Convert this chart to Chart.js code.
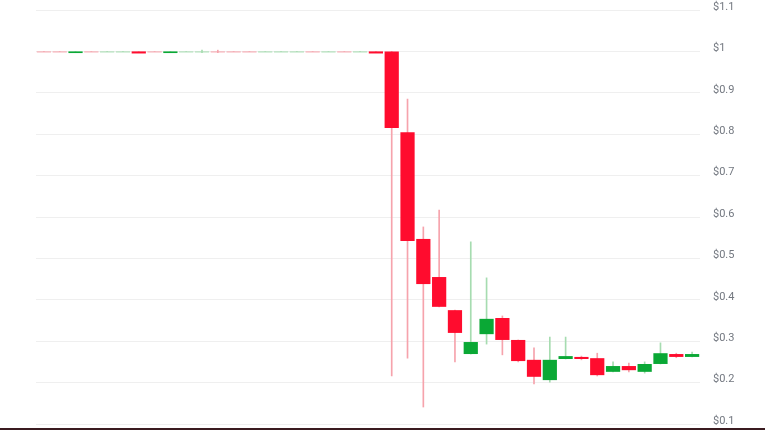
<!DOCTYPE html>
<html>
<head>
<meta charset="utf-8">
<script src="https://cdn.jsdelivr.net/npm/chart.js@4.4.0/dist/chart.umd.min.js"></script>
<style>
  html, body { margin: 0; padding: 0; background: #fff; }
  #wrap { width: 765px; height: 428px; position: relative; }
  #bottomLine { width: 765px; height: 2px; background: #3a1b20; }
</style>
</head>
<body>
<div id="wrap"><canvas id="myChart"></canvas></div>
<div id="bottomLine"></div>
<script>
// candle values
const opens = [
  1.0, 1.0, 0.996, 1.0, 0.9975, 0.9975, 1.0, 1.0, 0.996, 0.9975,
  0.9975, 1.0, 1.0, 1.0, 0.9975, 0.9975, 0.9975, 1.0, 0.9975, 1.0,
  0.9975, 1.0, 1.0, 0.805, 0.547, 0.455, 0.375, 0.269, 0.317, 0.356,
  0.303, 0.255, 0.206, 0.257, 0.262, 0.259, 0.226, 0.240, 0.226, 0.245,
  0.269, 0.262
];
const closes = [
  0.9975, 0.9975, 1.0, 0.9975, 1.0, 1.0, 0.995, 0.9975, 1.0, 1.0,
  1.0, 0.9975, 0.9975, 0.9975, 1.0, 1.0, 1.0, 0.9975, 1.0, 0.9975,
  1.0, 0.995, 0.815, 0.542, 0.438, 0.383, 0.320, 0.298, 0.354, 0.303,
  0.252, 0.214, 0.255, 0.264, 0.257, 0.218, 0.240, 0.230, 0.245, 0.271,
  0.262, 0.269
];
const highs = [
  1.0, 1.0, 1.0, 1.0, 1.0, 1.0, 1.0, 1.0, 1.0, 1.0,
  1.003, 1.003, 1.0, 1.0, 1.0, 1.0, 1.0, 1.0, 1.0, 1.0,
  1.0, 1.0, 1.0, 0.885, 0.576, 0.617, 0.375, 0.540, 0.453, 0.361,
  0.303, 0.284, 0.310, 0.310, 0.264, 0.271, 0.250, 0.247, 0.250, 0.296,
  0.271, 0.274
];
const lows = [
  1.0, 1.0, 1.0, 1.0, 1.0, 1.0, 1.0, 1.0, 1.0, 1.0,
  0.997, 0.997, 1.0, 1.0, 1.0, 1.0, 1.0, 1.0, 1.0, 1.0,
  1.0, 1.0, 0.216, 0.259, 0.141, 0.383, 0.250, 0.269, 0.293, 0.267,
  0.250, 0.197, 0.201, 0.257, 0.255, 0.216, 0.226, 0.226, 0.223, 0.245,
  0.260, 0.262
];
const labels = opens.map((_, i) => i + 1);

const upColor = "#0aa835";
const downColor = "#ff0c2e";
const upWick = "#a6dcb0";
const downWick = "#f6a3ac";

const isUp = opens.map((o, i) => closes[i] >= o);
// almost-flat candles show up in the lighter tone
const isFlat = opens.map((o, i) => Math.abs(closes[i] - o) < 0.003);

const data = {
  labels: labels,
  datasets: [
    {
      label: "body",
      data: opens.map((o, i) => [o, closes[i]]),
      backgroundColor: isUp.map((u, i) =>
        isFlat[i] ? (u ? upWick : downWick) : (u ? upColor : downColor)
      ),
      borderWidth: 0,
      barPercentage: 0.9,
      categoryPercentage: 1,
      grouped: false,
    },
    {
      label: "wick",
      data: lows.map((l, i) => [l, highs[i]]),
      backgroundColor: isUp.map(u => (u ? upWick : downWick)),
      borderWidth: 0,
      barThickness: 1,
      grouped: false,
    },
  ],
};

new Chart(document.getElementById("myChart"), {
  type: "bar",
  data: data,
  options: {
    responsive: true,
    maintainAspectRatio: false,
    animation: false,
    layout: { padding: { top: 10, bottom: 4, left: 36, right: 0 } },
    plugins: { legend: { display: false }, tooltip: { enabled: false } },
    scales: {
      x: { display: false },
      y: {
        position: "right",
        min: 0.1,
        max: 1.1,
        border: { display: false },
        grid: { color: "#efefef", drawTicks: false },
        afterFit: (scale) => {
          scale.width = 65;
          scale.paddingTop = 0;
          scale.paddingBottom = 0;
        },
        ticks: {
          stepSize: 0.1,
          padding: 13,
          labelOffset: -3,
          color: "#737880",
          font: { family: "Roboto", size: 11 },
          callback: (v) => "$" + Number(v.toFixed(1)),
        },
      },
    },
  },
});
</script>
</body>
</html>
